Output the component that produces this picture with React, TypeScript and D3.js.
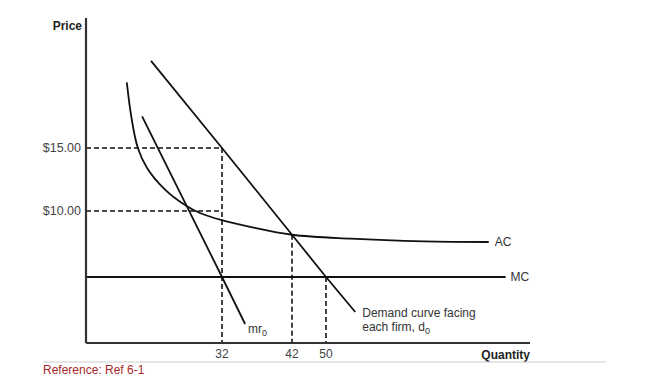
import React from "react";
import * as d3 from "d3";

// ---- data ----
const quantityTicks = [32, 42, 50];
const quantityTickTop = [15, 8.2, 5]; // price where each dashed vertical guide starts
const priceTicks = [15, 10];
const priceTickLabels = ["$15.00", "$10.00"];
const priceGuideEnd = [32, 32]; // quantity where each dashed horizontal guide ends

const mcPrice = 5;
const mcQ = [0, 90.5];

const demandQ = [15.3, 32, 42, 50, 56.6];
const demandP = [21.9, 15, 8.2, 5, 2.35];

const mrQ = [13.2, 32, 35.3];
const mrP = [17.5, 5, 1.44];

const acQ = [9.6, 10.7, 12.2, 14.4, 18.6, 23.2, 26.8, 32, 36, 42, 55.6, 72.1, 86.7];
const acP = [20.2, 17.4, 15, 13.4, 11.7, 10.5, 9.85, 9.3, 8.8, 8.2, 7.9, 7.7, 7.65];

const W = 650;
const H = 380;
const FONT = "'Liberation Sans', Arial, Helvetica, sans-serif";

export default function App() {
  // schematic (piecewise linear) axes, as in the textbook figure
  const x = d3.scaleLinear().domain([0, 32, 42, 50, 96]).range([86, 222, 292, 326, 530]);
  const y = d3.scaleLinear().domain([0, 10, 15, 25.3]).range([343, 211, 148, 18]);

  const line = d3
    .line<[number, number]>()
    .x((d) => x(d[0]))
    .y((d) => y(d[1]));
  const smooth = d3
    .line<[number, number]>()
    .x((d) => x(d[0]))
    .y((d) => y(d[1]))
    .curve(d3.curveCatmullRom.alpha(0.5));

  const zip = (a: number[], b: number[]) => a.map((v, i) => [v, b[i]] as [number, number]);
  const demand = zip(demandQ, demandP);
  const mr = zip(mrQ, mrP);
  const ac = zip(acQ, acP);
  const mc: [number, number][] = mcQ.map((q) => [q, mcPrice]);

  const x0 = x(0);
  const yBase = y(0);
  const qMax = 96;
  const yTop = y(25.3);

  const dash = "5,3";
  const ink = "#111";
  const sw = 1.8;

  const acEnd = ac[ac.length - 1];
  const mcEnd = mc[mc.length - 1];
  const dEnd = demand[demand.length - 1];
  const mrEnd = mr[mr.length - 1];

  return (
    <svg
      width={W}
      height={H}
      style={{ position: "absolute", left: 0, top: 0, background: "#fff" }}
      fontFamily={FONT}
    >
      {/* dashed guides */}
      {priceTicks.map((p, i) => (
        <line
          key={"hg" + i}
          x1={x0}
          x2={x(priceGuideEnd[i])}
          y1={y(p)}
          y2={y(p)}
          stroke={ink}
          strokeWidth={1.6}
          strokeDasharray={dash}
        />
      ))}
      {quantityTicks.map((q, i) => (
        <line
          key={"vg" + i}
          x1={x(q)}
          x2={x(q)}
          y1={y(quantityTickTop[i])}
          y2={yBase}
          stroke={ink}
          strokeWidth={1.6}
          strokeDasharray={dash}
        />
      ))}

      {/* curves */}
      <path d={line(mc) || ""} fill="none" stroke={ink} strokeWidth={sw} />
      <path d={smooth(ac) || ""} fill="none" stroke={ink} strokeWidth={sw} />
      <path d={line(demand) || ""} fill="none" stroke={ink} strokeWidth={sw} />
      <path d={line(mr) || ""} fill="none" stroke={ink} strokeWidth={sw} />

      {/* axes */}
      <line x1={x0} x2={x0} y1={yTop} y2={yBase} stroke="#333" strokeWidth={2.2} />
      <line x1={x0} x2={x(qMax)} y1={yBase} y2={yBase} stroke="#333" strokeWidth={2.2} />

      {/* axis titles */}
      <text x={x0 - 4} y={yTop + 12} textAnchor="end" fontSize={12} fontWeight="bold" fill="#222">
        Price
      </text>
      <text x={x(qMax)} y={yBase + 16} textAnchor="end" fontSize={12} fontWeight="bold" fill="#222">
        Quantity
      </text>

      {/* tick labels */}
      {priceTicks.map((p, i) => (
        <text
          key={"pt" + i}
          x={x0 - 5}
          y={y(p)}
          dy="0.35em"
          textAnchor="end"
          fontSize={12.5}
          fill="#444"
        >
          {priceTickLabels[i]}
        </text>
      ))}
      {quantityTicks.map((q, i) => (
        <text key={"qt" + i} x={x(q)} y={yBase + 15} textAnchor="middle" fontSize={12} fill="#444">
          {q}
        </text>
      ))}

      {/* curve labels */}
      <text x={x(acEnd[0]) + 6} y={y(acEnd[1])} dy="0.35em" fontSize={12} fill="#333">
        AC
      </text>
      <text x={x(mcEnd[0]) + 5} y={y(mcEnd[1])} dy="0.35em" fontSize={12} fill="#333">
        MC
      </text>
      <text x={x(mrEnd[0]) + 3} y={y(mrEnd[1]) + 9} fontSize={12} fill="#333">
        mr
        <tspan fontSize={9} dy={3.5}>0</tspan>
      </text>
      <text x={x(dEnd[0]) + 7} y={y(dEnd[1]) + 5} fontSize={12} fill="#333">
        Demand curve facing
      </text>
      <text x={x(dEnd[0]) + 7} y={y(dEnd[1]) + 19} fontSize={12} fill="#333">
        each firm, d<tspan fontSize={9} dy={3.5}>0</tspan>
      </text>

      {/* reference footer */}
      <line x1={43} x2={606} y1={362} y2={362} stroke="#ccc" strokeWidth={1} />
      <text x={43} y={374} fontSize={12} fill="#a4282b">
        Reference: Ref 6-1
      </text>
    </svg>
  );
}
